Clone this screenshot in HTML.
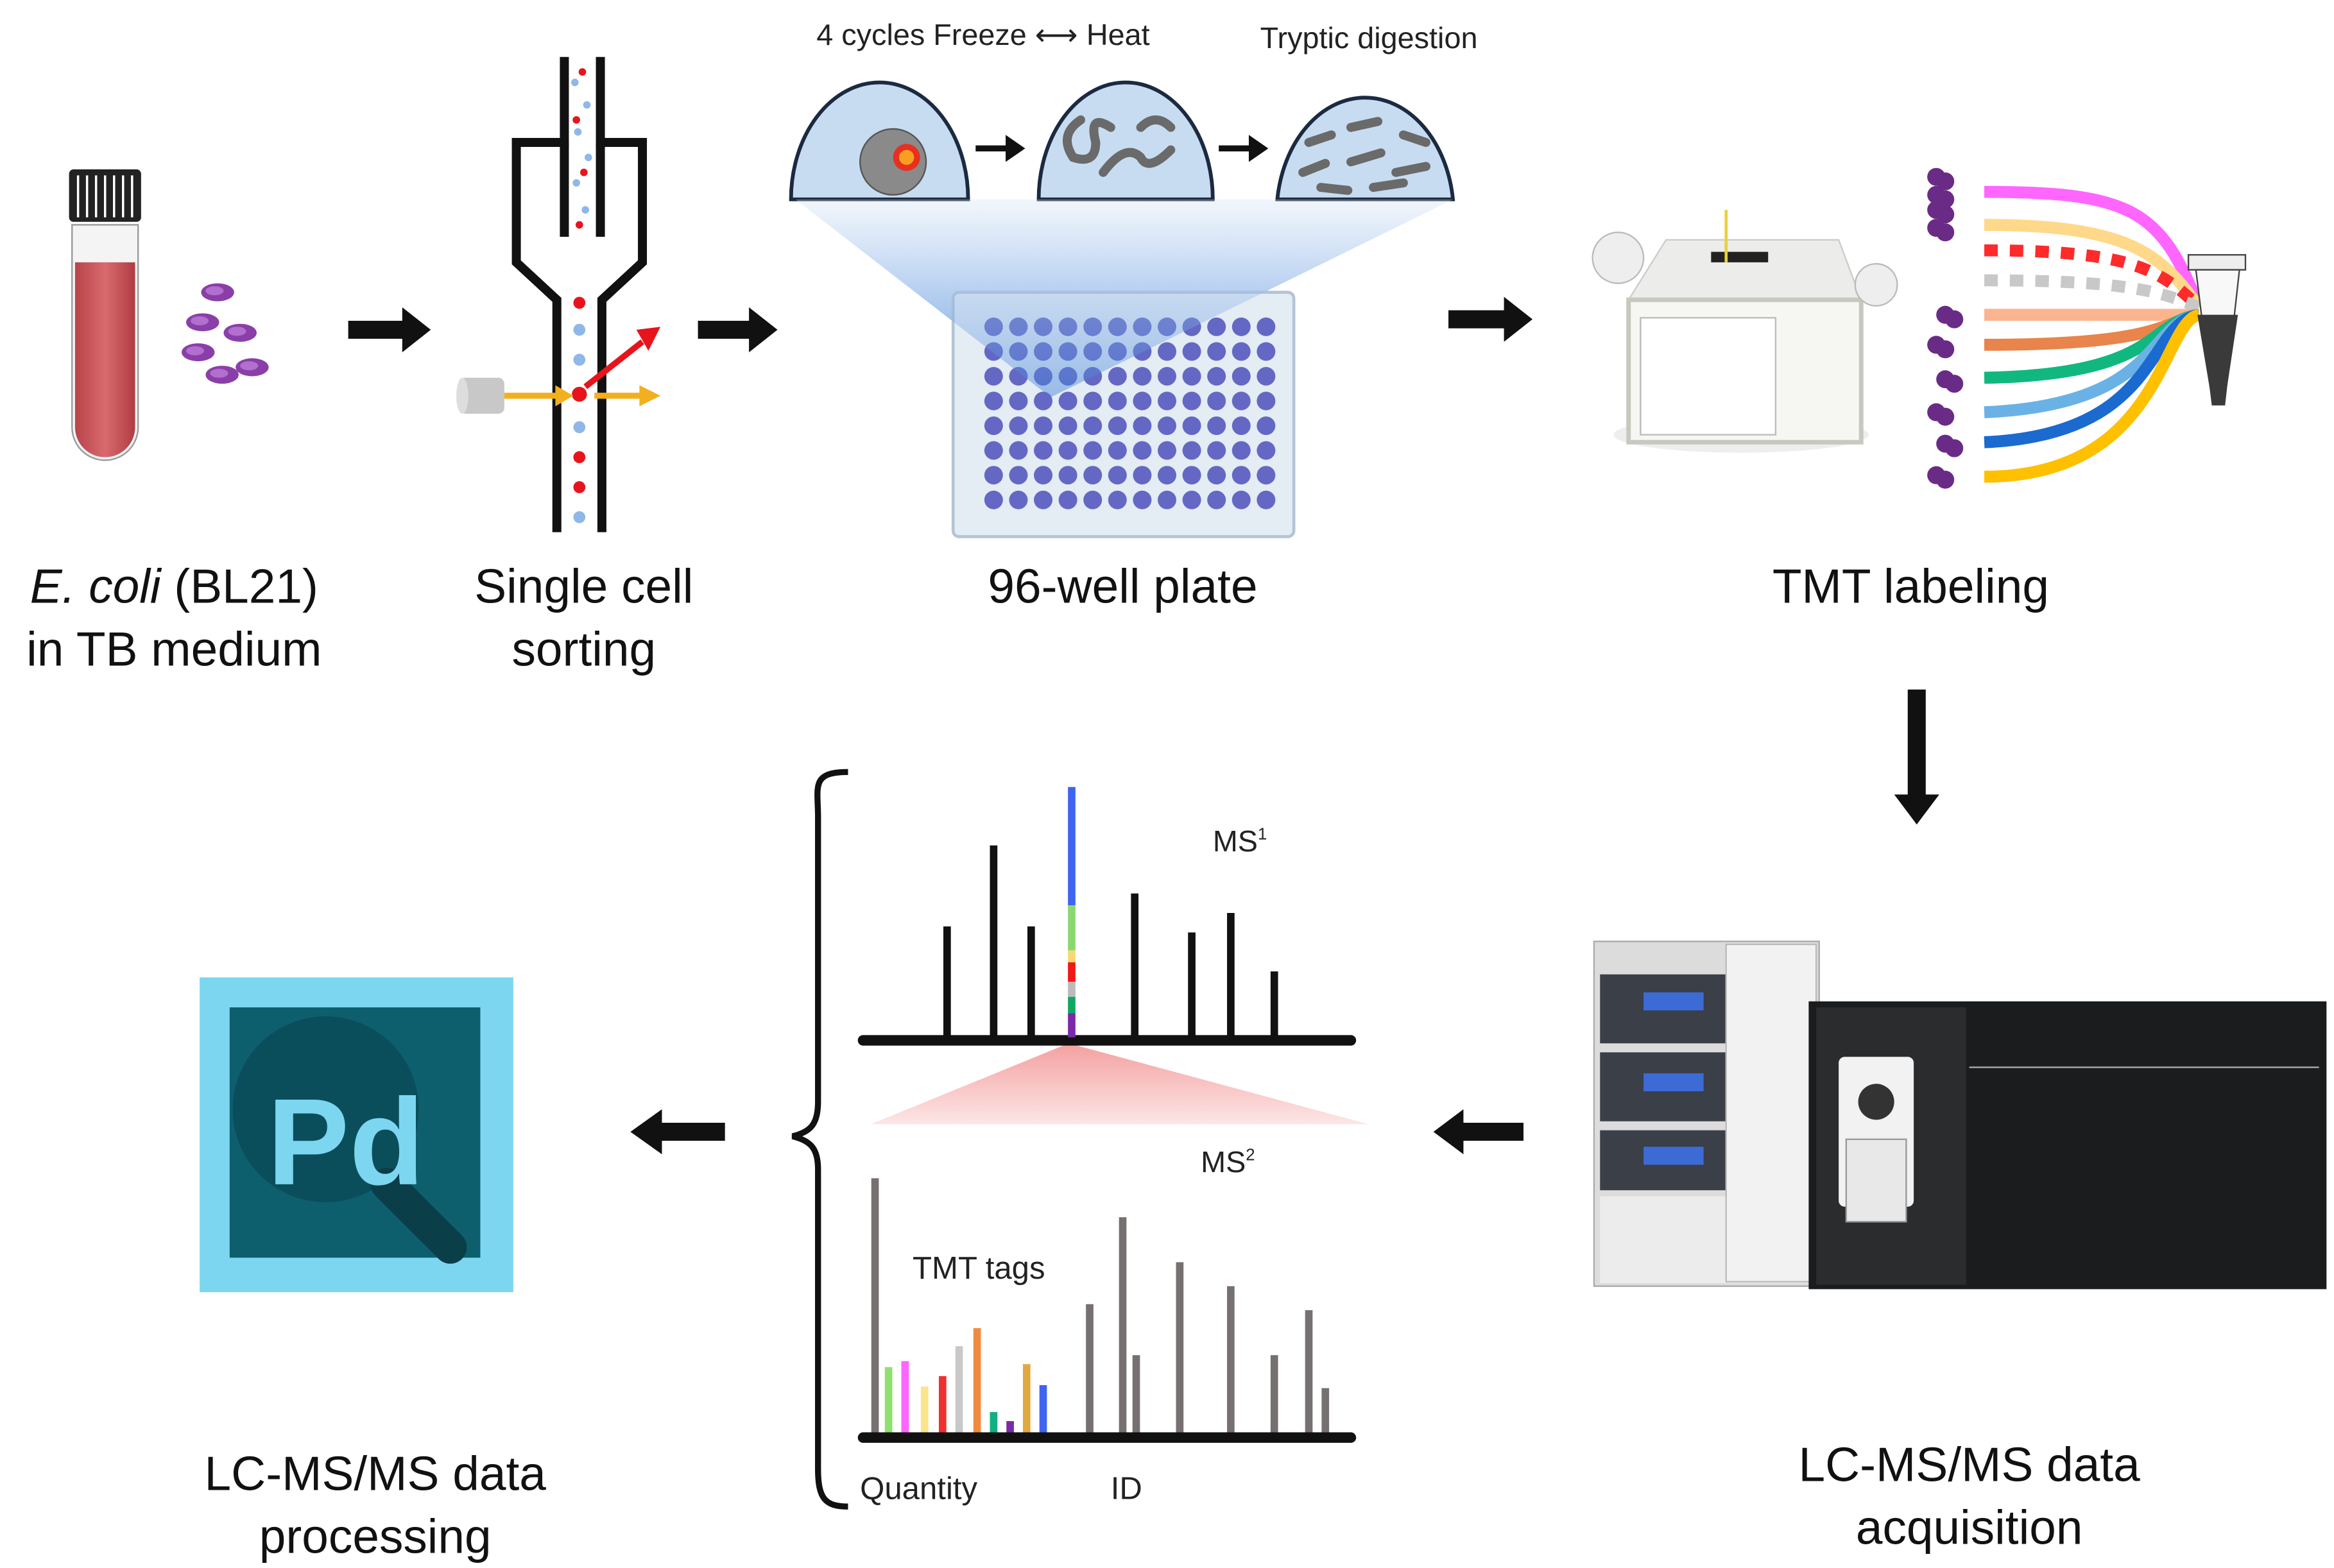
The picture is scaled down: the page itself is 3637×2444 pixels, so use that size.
<!DOCTYPE html>
<html><head><meta charset="utf-8"><style>
html,body{margin:0;padding:0;background:#fff;}
svg{display:block;}
text{font-family:"Liberation Sans",Arial,sans-serif;}
</style></head><body>
<svg width="3637" height="2444" viewBox="0 0 1555 1046" preserveAspectRatio="none" xmlns="http://www.w3.org/2000/svg">
<defs>
<linearGradient id="blu" x1="0" y1="0" x2="0" y2="1"><stop offset="0" stop-color="#e8f0fa" stop-opacity="0.6"/><stop offset="1" stop-color="#3c7ed8" stop-opacity="0.9"/></linearGradient>
<linearGradient id="pink" x1="0" y1="0" x2="0" y2="1"><stop offset="0" stop-color="#f4a0a0"/><stop offset="1" stop-color="#fde6e6"/></linearGradient>
<linearGradient id="tube" x1="0" y1="0" x2="1" y2="0"><stop offset="0" stop-color="#b8444a"/><stop offset="0.5" stop-color="#d86a6e"/><stop offset="1" stop-color="#b03c42"/></linearGradient>
<g id="bac"><ellipse cx="0" cy="0" rx="11" ry="6" fill="#8a3fa8"/><ellipse cx="-2" cy="-1" rx="6" ry="3" fill="#b36fcf"/></g>
<g id="blob"><circle cx="0" cy="0" r="6" fill="#6a2b86"/><circle cx="6" cy="3" r="6" fill="#6a2b86"/></g>
</defs>
<rect width="1555" height="1046" fill="#fff"/>

<rect x="46" y="113" width="48" height="35" rx="3" fill="#222"/>
<g stroke="#fff" stroke-width="1.5">
<line x1="52" y1="117" x2="52" y2="145"/><line x1="58" y1="117" x2="58" y2="145"/><line x1="64" y1="117" x2="64" y2="145"/><line x1="70" y1="117" x2="70" y2="145"/><line x1="76" y1="117" x2="76" y2="145"/><line x1="82" y1="117" x2="82" y2="145"/><line x1="88" y1="117" x2="88" y2="145"/></g>
<path d="M48 150 H92 V285 a22 22 0 0 1 -44 0 Z" fill="#f4f4f4" stroke="#999"/>
<path d="M50 175 H90 V285 a20 20 0 0 1 -40 0 Z" fill="url(#tube)"/>
<use href="#bac" x="145" y="195"/><use href="#bac" x="135" y="215"/><use href="#bac" x="160" y="222"/><use href="#bac" x="132" y="235"/><use href="#bac" x="168" y="245"/><use href="#bac" x="148" y="250"/>

<g fill="#111">
<path d="M232 214 H268 V205 L287 220 L268 235 V226 H232Z"/>
<path d="M465 214 H499 V205 L518 220 L499 235 V226 H465Z"/>
<path d="M965 207 H1002 V198 L1021 213 L1002 228 V219 H965Z"/>
<path d="M1271 460 V530 H1262 L1277 550 L1292 530 H1283 V460Z"/>
<path d="M1015 749 H975 V740 L955 755 L975 770 V761 H1015Z"/>
<path d="M483 749 H441 V740 L420 755 L441 770 V761 H483Z"/>
</g>

<g fill="none" stroke="#111" stroke-width="6" stroke-linejoin="miter">
<path d="M376 38 V95 H344 V175 L371 200 V355"/>
<path d="M400 38 V95 H428 V175 L401 200 V355"/>
<line x1="376" y1="95" x2="376" y2="158"/><line x1="400" y1="95" x2="400" y2="158"/>
</g>
<g fill="#8fb8e8"><circle cx="383" cy="55" r="2.5"/><circle cx="391" cy="70" r="2.5"/><circle cx="385" cy="88" r="2.5"/><circle cx="392" cy="105" r="2.5"/><circle cx="384" cy="122" r="2.5"/><circle cx="390" cy="140" r="2.5"/>
<circle cx="386" cy="220" r="4"/><circle cx="386" cy="240" r="4"/><circle cx="386" cy="285" r="4"/><circle cx="386" cy="345" r="4"/></g>
<g fill="#e8141c"><circle cx="388" cy="48" r="2.5"/><circle cx="384" cy="80" r="2.5"/><circle cx="389" cy="115" r="2.5"/><circle cx="386" cy="150" r="2.5"/>
<circle cx="386" cy="202" r="4"/><circle cx="386" cy="263" r="5"/><circle cx="386" cy="305" r="4"/><circle cx="386" cy="325" r="4"/></g>
<rect x="306" y="252" width="30" height="24" rx="4" fill="#c8c8c8"/><ellipse cx="308" cy="264" rx="4" ry="12" fill="#ddd"/>
<g stroke="#f2b01e" stroke-width="4"><line x1="336" y1="264" x2="372" y2="264"/><line x1="396" y1="264" x2="428" y2="264"/></g>
<path d="M370 257 L382 264 L370 271Z M426 257 L440 264 L426 271Z" fill="#f2b01e"/>
<line x1="390" y1="258" x2="428" y2="228" stroke="#e8141c" stroke-width="4"/>
<path d="M424 220 L440 218 L432 234Z" fill="#e8141c"/>

<text x="655" y="30" font-size="20" text-anchor="middle" fill="#222">4 cycles Freeze ⟷ Heat</text>
<text x="912" y="32" font-size="20" text-anchor="middle" fill="#222">Tryptic digestion</text>
<polygon points="530,133 968,133 700,265" fill="url(#blu)" opacity="0.7"/>
<g fill="#c7dcf0" stroke="#1b2a40" stroke-width="2.5">
<path d="M527 133 A59 78 0 0 1 645 133 Z"/>
<path d="M692 133 A58 78 0 0 1 808 133 Z"/>
<path d="M851 133 A59 78 0 0 1 968 133 Z"/></g>
<circle cx="595" cy="108" r="22" fill="#8a8a8a" stroke="#555"/><circle cx="604" cy="105" r="9" fill="#e83020"/><circle cx="604" cy="105" r="5" fill="#f6a020"/>
<g stroke="#6a6a6a" stroke-width="6" fill="none" stroke-linecap="round">
<path d="M720 80 q-15 10 -5 25 q15 5 15 -10 q-5 -20 10 -10"/><path d="M735 115 q15 -20 25 -10 q5 10 20 -5"/><path d="M760 85 q10 -10 20 0"/>
<path d="M872 95 l15 -5"/><path d="M900 85 l18 -4"/><path d="M935 90 l15 5"/><path d="M868 115 l15 -6"/><path d="M900 108 l20 -6"/><path d="M930 115 l20 -4"/><path d="M880 125 l18 2"/><path d="M915 125 l20 -3"/></g>
<path d="M650 97 H670 V90 L683 99 L670 108 V101 H650Z" fill="#111"/>
<path d="M812 97 H832 V90 L845 99 L832 108 V101 H812Z" fill="#111"/>

<rect x="635" y="195" width="227" height="163" rx="4" fill="#e4ecf4" stroke="#b4c4d4" stroke-width="2"/>
<g fill="#6468c4" id="wells"></g>
<polygon points="530,133 968,133 700,265" fill="url(#blu)" opacity="0.5"/>

<!-- TMT instrument -->
<ellipse cx="1160" cy="290" rx="85" ry="12" fill="#eee"/>
<path d="M1085 200 L1110 160 H1225 L1240 200Z" fill="#ececea" stroke="#ccc"/>
<rect x="1085" y="200" width="155" height="95" fill="#f6f6f2" stroke="#c8c8c0" stroke-width="3"/>
<rect x="1093" y="212" width="90" height="78" fill="#fff" stroke="#bbb"/>
<circle cx="1078" cy="172" r="17" fill="#eee" stroke="#bbb"/><circle cx="1250" cy="190" r="14" fill="#eee" stroke="#bbb"/>
<rect x="1140" y="168" width="38" height="7" fill="#222"/><line x1="1150" y1="140" x2="1150" y2="175" stroke="#e8d040" stroke-width="2"/>

<g fill="none" stroke-width="8">
<path d="M1322 128 C1420 128 1440 140 1465 205" stroke="#ff66ff"/>
<path d="M1322 150 C1420 150 1440 170 1465 205" stroke="#ffd88a"/>
<path d="M1322 167 C1420 167 1440 180 1465 205" stroke="#ff2a2a" stroke-dasharray="9 8"/>
<path d="M1322 187 C1420 187 1440 195 1465 205" stroke="#c8c8c8" stroke-dasharray="9 8"/>
<path d="M1322 210 H1465" stroke="#fbb48e"/>
<path d="M1322 230 C1440 230 1440 215 1465 210" stroke="#e8844c"/>
<path d="M1322 252 C1440 250 1430 215 1465 210" stroke="#10b880"/>
<path d="M1322 275 C1440 270 1430 215 1465 210" stroke="#6ab2e6"/>
<path d="M1322 295 C1440 290 1430 215 1465 210" stroke="#1a6ad0"/>
<path d="M1322 318 C1440 318 1440 215 1465 210" stroke="#ffc000"/>
</g>
<use href="#blob" x="1290" y="118"/><use href="#blob" x="1290" y="130"/><use href="#blob" x="1290" y="140"/><use href="#blob" x="1290" y="152"/>
<use href="#blob" x="1296" y="210"/><use href="#blob" x="1290" y="230"/><use href="#blob" x="1296" y="253"/><use href="#blob" x="1290" y="275"/><use href="#blob" x="1296" y="296"/><use href="#blob" x="1290" y="317"/>
<rect x="1458" y="170" width="38" height="10" fill="#eee" stroke="#444"/>
<path d="M1463 180 H1492 L1482 270 H1474Z" fill="#f8f8f8" stroke="#444"/>
<path d="M1464 210 H1491 L1482 270 H1474Z" fill="#3a3a3a"/>

<g font-size="32" fill="#111" text-anchor="middle">
<text x="116" y="402"><tspan font-style="italic">E. coli</tspan> (BL21)</text>
<text x="116" y="444">in TB medium</text>
<text x="389" y="402">Single cell</text>
<text x="389" y="444">sorting</text>
<text x="748" y="402">96-well plate</text>
<text x="1273" y="402">TMT labeling</text>
<text x="1312" y="988">LC-MS/MS data</text>
<text x="1312" y="1030">acquisition</text>
<text x="250" y="994">LC-MS/MS data</text>
<text x="250" y="1036">processing</text>
</g>

<rect x="1062" y="628" width="150" height="230" fill="#dcdcdc" stroke="#aaa"/>
<rect x="1066" y="650" width="140" height="46" fill="#3a3f48"/><rect x="1095" y="662" width="40" height="12" fill="#3d6bd6"/>
<rect x="1066" y="702" width="140" height="46" fill="#3a3f48"/><rect x="1095" y="716" width="40" height="12" fill="#3d6bd6"/>
<rect x="1066" y="754" width="140" height="40" fill="#3a3f48"/><rect x="1095" y="765" width="40" height="12" fill="#3d6bd6"/>
<rect x="1066" y="798" width="140" height="58" fill="#ececec"/>
<rect x="1150" y="630" width="60" height="225" fill="#f2f2f2" stroke="#bbb"/>
<rect x="1205" y="668" width="345" height="192" fill="#1a1c1e"/>
<rect x="1210" y="672" width="100" height="185" fill="#2a2c2e"/>
<rect x="1225" y="705" width="50" height="100" rx="4" fill="#f2f2f2"/><circle cx="1250" cy="735" r="12" fill="#333"/>
<rect x="1230" y="760" width="40" height="55" fill="#e8e8e8" stroke="#999"/>
<line x1="1312" y1="712" x2="1545" y2="712" stroke="#aaa"/>

<path d="M565 515 C540 515 545 525 545 545 V735 C545 750 540 755 528 758 C540 761 545 766 545 780 V980 C545 1000 550 1005 565 1005" fill="none" stroke="#111" stroke-width="4"/>

<polygon points="712,696 580,750 912,750" fill="url(#pink)"/>
<line x1="575" y1="694" x2="900" y2="694" stroke="#111" stroke-width="7" stroke-linecap="round"/>
<g stroke="#111" stroke-width="5">
<line x1="631" y1="692" x2="631" y2="618"/><line x1="662" y1="692" x2="662" y2="564"/><line x1="687" y1="692" x2="687" y2="618"/>
<line x1="756" y1="692" x2="756" y2="596"/><line x1="794" y1="692" x2="794" y2="622"/><line x1="820" y1="692" x2="820" y2="609"/><line x1="849" y1="692" x2="849" y2="648"/></g>
<g stroke-width="5"><line x1="714" y1="525" x2="714" y2="604" stroke="#3f64f0"/><line x1="714" y1="604" x2="714" y2="634" stroke="#8cd870"/><line x1="714" y1="634" x2="714" y2="642" stroke="#f8d870"/><line x1="714" y1="642" x2="714" y2="655" stroke="#f01818"/><line x1="714" y1="655" x2="714" y2="665" stroke="#bbb"/><line x1="714" y1="665" x2="714" y2="676" stroke="#10a860"/><line x1="714" y1="676" x2="714" y2="692" stroke="#7a2aa8"/></g>
<text x="808" y="568" font-size="20" fill="#222">MS<tspan font-size="11" dy="-8">1</tspan></text>
<text x="800" y="782" font-size="20" fill="#222">MS<tspan font-size="11" dy="-8">2</tspan></text>

<g stroke="#777070" stroke-width="5">
<line x1="583" y1="956" x2="583" y2="786"/><line x1="726" y1="956" x2="726" y2="870"/><line x1="748" y1="956" x2="748" y2="812"/><line x1="757" y1="956" x2="757" y2="904"/>
<line x1="786" y1="956" x2="786" y2="842"/><line x1="820" y1="956" x2="820" y2="858"/><line x1="849" y1="956" x2="849" y2="904"/><line x1="872" y1="956" x2="872" y2="874"/><line x1="883" y1="956" x2="883" y2="926"/></g>
<g stroke-width="5">
<line x1="592" y1="956" x2="592" y2="912" stroke="#90e070"/><line x1="603" y1="956" x2="603" y2="908" stroke="#ff66ff"/><line x1="616" y1="956" x2="616" y2="925" stroke="#fbe48a"/><line x1="628" y1="956" x2="628" y2="918" stroke="#f03030"/><line x1="639" y1="956" x2="639" y2="898" stroke="#c8c8c8"/><line x1="651" y1="956" x2="651" y2="886" stroke="#f08a40"/><line x1="662" y1="956" x2="662" y2="942" stroke="#10b080"/><line x1="673" y1="956" x2="673" y2="948" stroke="#7a2aa8"/><line x1="684" y1="956" x2="684" y2="910" stroke="#e0a840"/><line x1="695" y1="956" x2="695" y2="924" stroke="#3f64f0"/></g>
<line x1="575" y1="959" x2="900" y2="959" stroke="#111" stroke-width="7" stroke-linecap="round"/>
<text x="608" y="853" font-size="21" fill="#222">TMT tags</text>
<text x="573" y="1000" font-size="21" fill="#222">Quantity</text>
<text x="740" y="1000" font-size="21" fill="#222">ID</text>

<rect x="133" y="652" width="209" height="210" fill="#7dd6f0"/>
<rect x="153" y="672" width="167" height="167" fill="#0d5f6e"/>
<circle cx="217" cy="740" r="62" fill="#0a4e5c"/>
<line x1="258" y1="790" x2="300" y2="832" stroke="#0a3e48" stroke-width="22" stroke-linecap="round"/>
<text x="178" y="790" font-size="82" font-weight="bold" fill="#7dd6f0">Pd</text>
</svg>
<script>
(function(){var g=document.getElementById('wells');var s='';for(var r=0;r<8;r++)for(var c=0;c<12;c++){s+='<circle cx="'+(662+c*16.5)+'" cy="'+(218+r*16.5)+'" r="6.2"/>';}g.innerHTML=s;})();
</script>
</body></html>
